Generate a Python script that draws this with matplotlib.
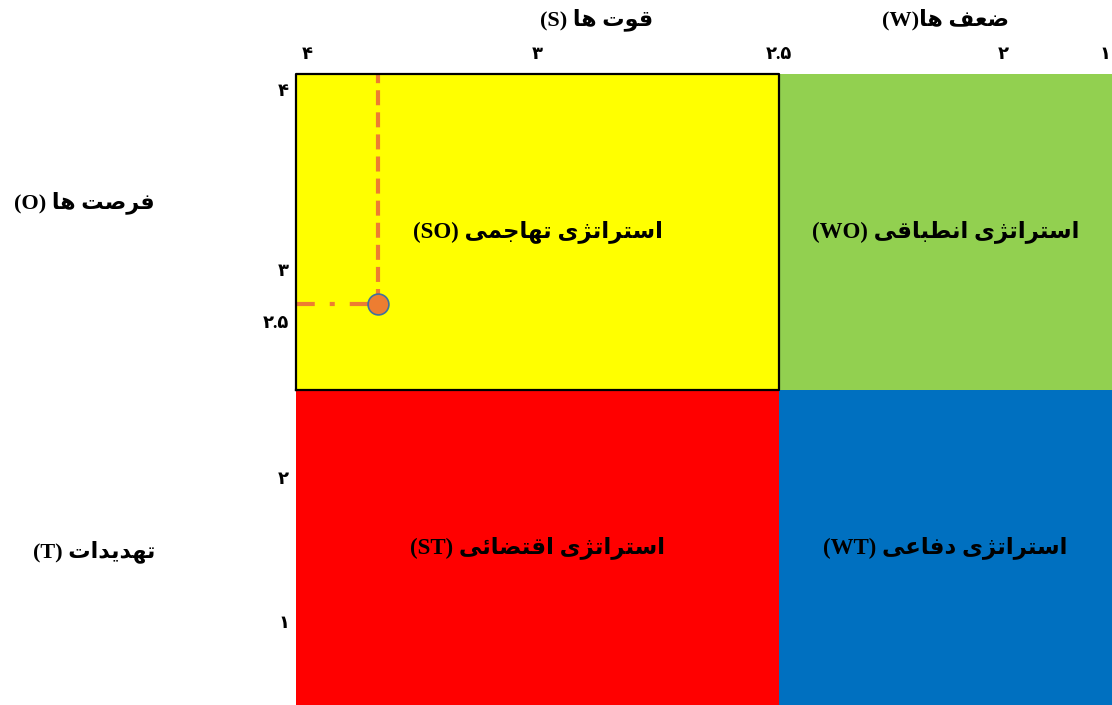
import numpy as np
import matplotlib
matplotlib.use("Agg")
import matplotlib.pyplot as plt
from matplotlib.transforms import ScaledTranslation

# SWOT matrix values
x_ticks = [4, 3, 2.5, 2, 1]          # internal factors (S <- -> W)
y_ticks = [4, 3, 2.5, 2, 1]          # external factors (O ^ v T)
x_tick_labels = ["۴", "۳", "۲.۵", "۲", "۱"]
y_tick_labels = ["۴", "۳", "۲.۵", "۲", "۱"]
midpoint = 2.5
point_x = [3.69]
point_y = [2.86]

quadrants = [
    ("استراتژی تهاجمی", "(SO)", "upper", "left"),
    ("استراتژی انطباقی", "(WO)", "upper", "right"),
    ("استراتژی اقتضائی", "(ST)", "lower", "left"),
    ("استراتژی دفاعی", "(WT)", "lower", "right"),
]
quad_colors = {"SO": "#FFFF00", "WO": "#92D050", "ST": "#FF0000", "WT": "#0070C0"}

# ---- minimal Persian shaping (matplotlib has no bidi / joining) ----
FORMS = {  # isolated, final, initial, medial
    "ا": ("\uFE8D", "\uFE8E", None, None),
    "ب": ("\uFE8F", "\uFE90", "\uFE91", "\uFE92"),
    "ت": ("\uFE95", "\uFE96", "\uFE97", "\uFE98"),
    "ج": ("\uFE9D", "\uFE9E", "\uFE9F", "\uFEA0"),
    "د": ("\uFEA9", "\uFEAA", None, None),
    "ر": ("\uFEAD", "\uFEAE", None, None),
    "ژ": ("\uFB8A", "\uFB8B", None, None),
    "س": ("\uFEB1", "\uFEB2", "\uFEB3", "\uFEB4"),
    "ص": ("\uFEB9", "\uFEBA", "\uFEBB", "\uFEBC"),
    "ض": ("\uFEBD", "\uFEBE", "\uFEBF", "\uFEC0"),
    "ط": ("\uFEC1", "\uFEC2", "\uFEC3", "\uFEC4"),
    "ع": ("\uFEC9", "\uFECA", "\uFECB", "\uFECC"),
    "ف": ("\uFED1", "\uFED2", "\uFED3", "\uFED4"),
    "ق": ("\uFED5", "\uFED6", "\uFED7", "\uFED8"),
    "م": ("\uFEE1", "\uFEE2", "\uFEE3", "\uFEE4"),
    "ن": ("\uFEE5", "\uFEE6", "\uFEE7", "\uFEE8"),
    "و": ("\uFEED", "\uFEEE", None, None),
    "ه": ("\uFEE9", "\uFEEA", "\uFEEB", "\uFEEC"),
    "ی": ("\uFBFC", "\uFBFD", "\uFBFE", "\uFBFF"),
    "ئ": ("\uFE89", "\uFE8A", "\uFE8B", "\uFE8C"),
}


def joins_left(ch):
    return ch in FORMS and FORMS[ch][2] is not None


def shape(text):
    out = []
    for i, ch in enumerate(text):
        if ch not in FORMS:
            out.append(ch)
            continue
        prev_j = i > 0 and joins_left(text[i - 1])
        next_j = i + 1 < len(text) and text[i + 1] in FORMS and joins_left(ch)
        iso, fin, ini, med = FORMS[ch]
        if prev_j and next_j:
            out.append(med)
        elif prev_j:
            out.append(fin)
        elif next_j:
            out.append(ini)
        else:
            out.append(iso)
    return "".join(out)[::-1]


def fa(persian, latin="", sep=" "):
    return (latin + sep if latin else "") + shape(persian)


# ---- piecewise scale so the ticks sit where the diagram puts them ----
def make_interp(src, dst):
    src, dst = np.asarray(src, float), np.asarray(dst, float)

    def build(a, b):
        o = np.argsort(a)
        a, b = a[o], b[o]

        def f(v):
            v = np.asarray(v, float)
            out = np.interp(v, a, b)
            out = np.where(v < a[0], b[0] + (v - a[0]) * (b[1] - b[0]) / (a[1] - a[0]), out)
            out = np.where(v > a[-1], b[-1] + (v - a[-1]) * (b[-1] - b[-2]) / (a[-1] - a[-2]), out)
            return out
        return f
    return build(src, dst), build(dst, src)


W, H = 1112, 705
x_px = [307, 537, 779, 1003, 1110]      # pixel column of each x tick
y_px = [90, 270, 390, 478, 622]         # pixel row of each y tick
ax_left, ax_right, ax_top, ax_bottom = 296, 1112, 74, 705

# both forward functions increase with the score; x is then inverted
xf, xi = make_interp(x_ticks, [-p for p in x_px])
yf, yi = make_interp(y_ticks, [-p for p in y_px])

fig = plt.figure(figsize=(W / 100, H / 100), dpi=100)
ax = fig.add_axes([ax_left / W, 1 - ax_bottom / H,
                   (ax_right - ax_left) / W, (ax_bottom - ax_top) / H])
ax.set_xscale("function", functions=(xf, xi))
ax.set_yscale("function", functions=(yf, yi))
x0, x1 = float(xi(-ax_left)), float(xi(-ax_right))
y0, y1 = float(yi(-ax_bottom)), float(yi(-ax_top))
ax.set_xlim(x0, x1)
ax.set_ylim(y0, y1)

serif_fa = ["Liberation Serif", "DejaVu Sans"]

for persian, tag, vpos, hpos in quadrants:
    xs = [x0, midpoint] if hpos == "left" else [midpoint, x1]
    ylo, yhi = (midpoint, y1) if vpos == "upper" else (y0, midpoint)
    key = tag.strip("()")
    ax.fill_between(xs, ylo, yhi, facecolor=quad_colors[key], edgecolor="none", zorder=1)
    if key == "SO":
        ax.plot([xs[0], xs[1], xs[1], xs[0], xs[0]], [ylo, ylo, yhi, yhi, ylo],
                color="black", lw=1.6, zorder=4, clip_on=False)
    cx = float(xi((xf(xs[0]) + xf(xs[1])) / 2))
    cy = float(yi((yf(ylo) + yf(yhi)) / 2))
    ax.text(cx, cy, fa(persian, tag), ha="center", va="center",
            fontsize=16.5, fontweight="bold", family=serif_fa, zorder=5)

# guide lines to the position point
ax.plot([point_x[0], point_x[0]], [point_y[0], y1], color="#ED7D31", lw=3,
        dashes=(3.6, 1.7), zorder=3)
ax.plot([x0, point_x[0]], [point_y[0], point_y[0]], color="#ED7D31", lw=3,
        dashes=(4.5, 3.6, 1.2, 3.6), zorder=3)
ax.plot(point_x, point_y, "o", ms=15, mfc="#ED7D31", mec="#41719C", mew=1.2, zorder=6)

ax.xaxis.tick_top()
ax.set_xticks(x_ticks)
ax.set_xticklabels(x_tick_labels)
ax.set_yticks(y_ticks)
ax.set_yticklabels(y_tick_labels)
ax.tick_params(length=0, labelsize=13)
ax.tick_params(axis="x", pad=8)
ax.tick_params(axis="y", pad=5)
for lab in ax.get_xticklabels() + ax.get_yticklabels():
    lab.set_fontweight("bold")
    lab.set_family(serif_fa)
# the last top label hugs the right edge
ax.xaxis.get_major_ticks()[-1].label2.set_horizontalalignment("right")
# the "2.5" label on the left sits higher in the original diagram
lab25 = ax.yaxis.get_major_ticks()[2].label1
lab25.set_transform(lab25.get_transform() + ScaledTranslation(0, 0.68, fig.dpi_scale_trans))
for s in ax.spines.values():
    s.set_visible(False)

fig.text(597 / W, 1 - 20 / H, fa("قوت ها", "(S)"), ha="center", va="center",
         fontsize=16, fontweight="bold", family=serif_fa)
fig.text(945 / W, 1 - 20 / H, fa("ضعف ها", "(W)", ""), ha="center", va="center",
         fontsize=16, fontweight="bold", family=serif_fa)
fig.text(155 / W, 1 - 203 / H, fa("فرصت ها", "(O)"), ha="right", va="center",
         fontsize=16, fontweight="bold", family=serif_fa)
fig.text(155 / W, 1 - 552 / H, fa("تهدیدات", "(T)"), ha="right", va="center",
         fontsize=16, fontweight="bold", family=serif_fa)

fig.savefig("out.png", dpi=100)
